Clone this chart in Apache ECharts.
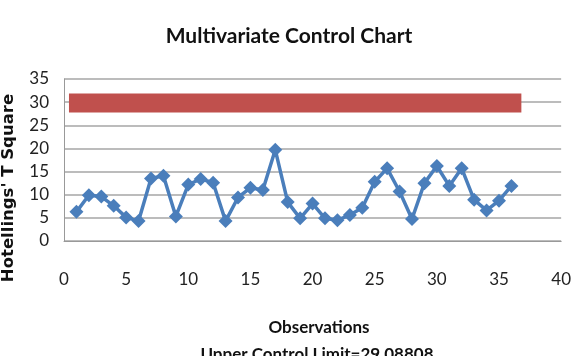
<!DOCTYPE html>
<html>
<head>
<meta charset="utf-8">
<script src="https://cdn.jsdelivr.net/npm/echarts@6/dist/echarts.min.js"></script>
<style>
  html, body { margin: 0; padding: 0; background: #fff; }
  #main { width: 574px; height: 356px; }
</style>
</head>
<body>
<div id="main"></div>
<script>
const observations = [1, 2, 3, 4, 5, 6, 7, 8, 9, 10, 11, 12, 13, 14, 15, 16, 17, 18,
  19, 20, 21, 22, 23, 24, 25, 26, 27, 28, 29, 30, 31, 32, 33, 34, 35, 36];
const tSquare = [6.3, 9.9, 9.6, 7.6, 5.1, 4.3, 13.5, 14.1, 5.3, 12.2, 13.4, 12.6, 4.3, 9.4, 11.5, 11.0, 19.7, 8.4,
  4.9, 8.1, 4.9, 4.5, 5.6, 7.2, 12.8, 15.7, 10.7, 4.75, 12.5, 16.2, 11.9, 15.7, 8.9, 6.6, 8.7, 11.9];
// upper control limit band (drawn as a thick line)
const uclX = [0.4, 36.8];
const uclY = [29.8, 29.8];
const uclText = 'Upper Control Limit=29.08808';

const font = 'Lato, "Open Sans", sans-serif';

let chart = echarts.init(document.getElementById('main'));

let option = {
  animation: false,
  backgroundColor: '#fff',
  title: [
    {
      text: 'Multivariate Control Chart',
      left: 284, top: 21, textAlign: 'center',
      textStyle: { fontFamily: font, fontWeight: 'bold', fontSize: 21, color: '#111' }
    },
    {
      text: 'Observations',
      left: 314, top: 314, textAlign: 'center',
      textStyle: { fontFamily: font, fontWeight: 'bold', fontSize: 17, color: '#111' }
    },
    {
      text: uclText,
      left: 312, top: 341, textAlign: 'center',
      textStyle: { fontFamily: font, fontWeight: 'bold', fontSize: 17, color: '#111' }
    }
  ],
  graphic: [{
    type: 'text',
    x: 9, y: 188,
    rotation: Math.PI / 2,
    style: {
      text: "Hotellings' T Square",
      fontFamily: 'DejaVu Sans', fontWeight: 'bold', fontSize: 16.5,
      fill: '#111', align: 'center', verticalAlign: 'middle'
    }
  }],
  grid: { left: 64, right: 5, top: 79, bottom: 115 },
  xAxis: {
    type: 'value', min: 0, max: 40, interval: 5,
    axisLine: { show: true, lineStyle: { color: '#999', width: 1 } },
    axisTick: { show: false },
    splitLine: { show: false },
    axisLabel: { margin: 30, fontFamily: font, fontSize: 17, color: '#222' }
  },
  yAxis: {
    type: 'value', min: 0, max: 35, interval: 5,
    axisLine: { show: true, lineStyle: { color: '#999', width: 1 } },
    axisTick: { show: false },
    splitLine: { show: true, lineStyle: { color: '#a6a6a6', width: 1.5 } },
    axisLabel: { margin: 15, fontFamily: font, fontSize: 17, color: '#222' }
  },
  series: [
    {
      type: 'line',
      data: uclX.map((x, i) => [x, uclY[i]]),
      showSymbol: false,
      symbol: 'none',
      lineStyle: { color: '#C0504D', width: 19, cap: 'butt' },
      z: 2
    },
    {
      type: 'line',
      data: observations.map((x, i) => [x, tSquare[i]]),
      symbol: 'diamond',
      symbolSize: 14,
      itemStyle: { color: '#4A7EBB' },
      lineStyle: { color: '#4A7EBB', width: 3.5 },
      z: 3
    }
  ]
};

chart.setOption(option);
</script>
</body>
</html>
